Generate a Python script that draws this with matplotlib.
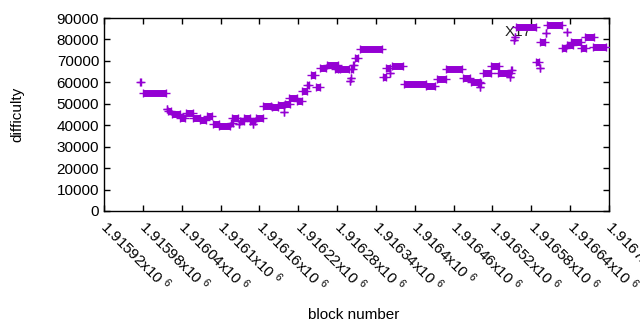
import matplotlib
matplotlib.use('Agg')
import matplotlib.pyplot as plt

plt.rcParams['font.family'] = ['Liberation Sans', 'DejaVu Sans']
plt.rcParams['mathtext.fontset'] = 'custom'
plt.rcParams['mathtext.rm'] = 'Liberation Sans'
plt.rcParams['mathtext.it'] = 'Liberation Sans'

# runs of blocks with the same difficulty (first block, last block, difficulty)
run_start = [1915975, 1915980, 1916018, 1916019, 1916025, 1916038, 1916047, 1916058,
             1916069, 1916079, 1916089, 1916098, 1916116, 1916118, 1916128, 1916130,
             1916137, 1916146, 1916150, 1916154, 1916165, 1916180, 1916189, 1916198,
             1916199, 1916206, 1916218, 1916226, 1916234, 1916239, 1916247, 1916254,
             1916265, 1916277, 1916282, 1916300, 1916302, 1916302, 1916304, 1916307,
             1916315, 1916351, 1916356, 1916361, 1916365, 1916384, 1916418, 1916434,
             1916449, 1916474, 1916487, 1916497, 1916501, 1916506, 1916518, 1916529,
             1916547, 1916548, 1916553, 1916555, 1916557, 1916588, 1916593, 1916594,
             1916602, 1916604, 1916627, 1916635, 1916635, 1916642, 1916656, 1916663,
             1916676]
run_end = [1915977, 1916016, 1916018, 1916024, 1916038, 1916045, 1916058, 1916068,
           1916078, 1916087, 1916097, 1916114, 1916119, 1916127, 1916128, 1916137,
           1916146, 1916153, 1916150, 1916165, 1916178, 1916188, 1916198, 1916198,
           1916208, 1916218, 1916226, 1916234, 1916237, 1916246, 1916254, 1916263,
           1916281, 1916285, 1916298, 1916300, 1916302, 1916305, 1916306, 1916312,
           1916349, 1916356, 1916361, 1916361, 1916382, 1916417, 1916431, 1916448,
           1916473, 1916486, 1916500, 1916503, 1916501, 1916517, 1916530, 1916548,
           1916547, 1916550, 1916553, 1916555, 1916587, 1916592, 1916593, 1916601,
           1916602, 1916627, 1916634, 1916635, 1916644, 1916656, 1916664, 1916677,
           1916695]
run_diff = [60000, 55000, 47600, 46800, 45100, 43500, 45900, 43300,
            42500, 44300, 40400, 39500, 40900, 43200, 40600, 42000,
            43200, 41900, 40700, 43600, 48800, 48300, 49200, 46000,
            49700, 52500, 51500, 55900, 58800, 63300, 58000, 66500,
            67900, 66300, 66100, 60800, 62000, 66400, 68300, 71200,
            75400, 62300, 66500, 64300, 67500, 59000, 58100, 61400,
            66100, 61900, 60300, 59700, 57800, 64200, 67500, 64200,
            62600, 65700, 79800, 81000, 85600, 69300, 66500, 78900,
            82900, 86700, 76200, 83300, 77500, 78700, 75900, 81300,
            76300]

x_ticks = list(range(1915920, 1916701, 60))
y_ticks = list(range(0, 90001, 10000))
color = '#9400d3'

fig = plt.figure(figsize=(6.4, 3.3), dpi=100)
ax = fig.add_axes([104 / 640, 1 - 211 / 330, 505 / 640, 193 / 330])

ax.text(1916539, 83500, 'X17', fontsize=11, ha='left', va='center', color='#222222', zorder=1)

for x0, x1, y in zip(run_start, run_end, run_diff):
    if x1 > x0:
        ax.hlines(y, x0, x1, color=color, linewidth=5.0, zorder=2)
    ax.plot([x0, x1], [y, y], linestyle='none', marker='+', markersize=5.5,
            markeredgewidth=1.0, color=color, zorder=3)

ax.set_xlim(1915920, 1916700)
ax.set_ylim(0, 90000)
ax.set_xticks(x_ticks)
ax.set_xticklabels([f'{v / 1e6:g}x10 $^{{6}}$' for v in x_ticks],
                   rotation=-45, ha='left', va='center', rotation_mode='anchor')
ax.set_yticks(y_ticks)
ax.tick_params(direction='in', top=True, right=True, length=4, width=1, labelsize=11)
ax.tick_params(axis='x', pad=9)
for s in ax.spines.values():
    s.set_linewidth(1)

ax.set_ylabel('difficulty', fontsize=11)
ax.set_xlabel('block number', fontsize=11)
ax.yaxis.set_label_coords((24 - 104) / 505, 0.5)
ax.xaxis.set_label_coords((354 - 104) / 505, (211 - 308) / 193)

fig.savefig('out.png', dpi=100)
